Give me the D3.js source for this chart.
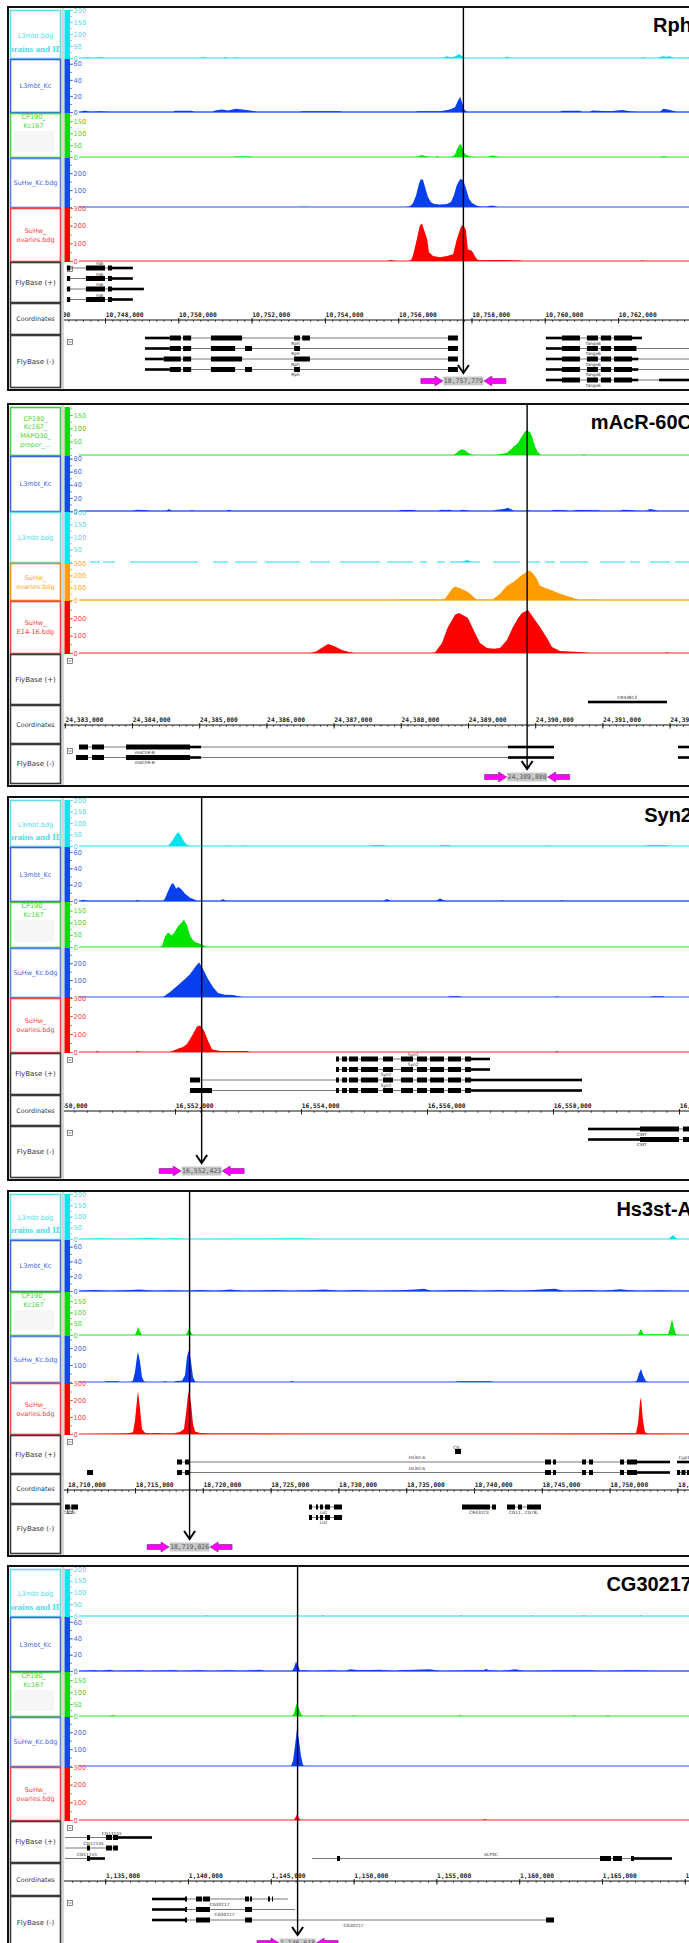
<!DOCTYPE html>
<html>
<head>
<meta charset="utf-8">
<script src="https://cdn.jsdelivr.net/npm/d3@7/dist/d3.min.js"></script>
<style>
  body { margin: 0; background: #fff; }
  svg { display: block; }
</style>
</head>
<body>
<svg id="chart"></svg>
<script>
// ---------- data ----------
const panelTitles = ["Rph", "mAcR-60C", "Syn2", "Hs3st-A", "CG30217"];
const cursorPositions = [10757779, 24389880, 16552423, 18719026, 1146618];
// genomic window (bp) shown in each snapshot
const viewWindows = [
  [10746881, 10763935],
  [24382988, 24392289],
  [16550238, 16560159],
  [18709764, 18755855],
  [1132512, 1170254]
];
const coordSteps = [2000, 1000, 2000, 5000, 5000];

const trackLabelsA = [["L3mbt.bdg", "brains and ID"], ["L3mbt_Kc"], ["CP190_", "Kc167"], ["SuHw_Kc.bdg"], ["SuHw_", "ovaries.bdg"]];
const trackLabelsB = [["CP190_", "Kc167_", "MAPQ30_", "proper_..."], ["L3mbt_Kc"], ["L3mbt.bdg"], ["SuHw_", "ovaries.bdg"], ["SuHw_", "E14-16.bdg"]];
const trackColorsA = ["cyan", "blue", "green", "blue2", "red"];
const trackColorsB = ["green", "blue", "cyan", "orange", "red"];
const trackTicksA = [[0, 50, 100, 150, 200], [0, 20, 40, 60], [0, 50, 100, 150], [100, 200], [0, 100, 200, 300]];
const trackTicksB = [[50, 100, 150], [0, 20, 40, 60, 80], [50, 100, 150, 200], [0, 100, 200, 300], [0, 100, 200]];
const trackMax = [
  [200, 66, 185, 290, 300],
  [180, 84, 200, 300, 300],
  [200, 66, 185, 290, 300],
  [200, 69, 190, 270, 300],
  [200, 66, 185, 290, 300]
];
const rowLabels = ["FlyBase (+)", "Coordinates", "FlyBase (-)"];

// signal tracks: [position kb, value]
const rphCyan = [[10747.32,0],[10747.54,3],[10747.65,0],[10747.89,3],[10748.0,0],[10750.59,0],[10750.67,4],[10750.76,0],[10751.22,0],[10751.27,4],[10751.36,0],[10751.49,0],[10751.55,3],[10751.63,0],[10757.22,0],[10757.33,7],[10757.44,3],[10757.55,6],[10757.66,17],[10757.74,8],[10757.82,0],[10758.91,0],[10758.97,6],[10759.05,0],[10762.60,0],[10762.68,3],[10762.76,0],[10763.09,0],[10763.20,7],[10763.31,5],[10763.42,7],[10763.53,0],[10763.93,2]];
const rphL3Kc = [[10747.32,0],[10747.45,2],[10747.59,0],[10747.86,1],[10748.14,0],[10749.86,0],[10749.91,1.5],[10750.37,1.5],[10750.43,0],[10750.92,0],[10751.00,2],[10751.19,3],[10751.36,2],[10751.57,4],[10751.74,3],[10751.96,2],[10752.17,0],[10753.32,0],[10753.38,1],[10754.41,1],[10754.47,0],[10756.46,0],[10756.54,1],[10757.14,1],[10757.41,3],[10757.55,6],[10757.63,14],[10757.69,19],[10757.74,12],[10757.80,3],[10757.88,0],[10760.41,0],[10760.47,1.5],[10760.96,1.5],[10761.02,0],[10761.23,0],[10761.29,2],[10761.78,1],[10762.11,2.5],[10762.32,1],[10762.52,0],[10763.14,0],[10763.23,4],[10763.36,3],[10763.55,1],[10763.61,0]];
const rphCp190 = [[10747.32,0],[10751.49,0],[10751.57,2],[10751.96,2],[10752.04,0],[10756.46,0],[10756.57,4],[10756.65,8],[10756.76,3],[10756.87,0],[10757.00,0],[10757.06,3],[10757.14,0],[10757.36,0],[10757.47,2],[10757.55,10],[10757.60,30],[10757.66,48],[10757.71,55],[10757.77,30],[10757.82,12],[10757.96,3],[10758.10,0],[10758.45,0],[10758.50,4],[10758.59,6],[10758.67,3],[10758.75,0],[10763.14,0],[10763.25,3],[10763.36,0]];
const rphSuHwKc = [[10747.32,0],[10753.32,0],[10753.40,2],[10753.59,0],[10756.19,0],[10756.32,4],[10756.40,20],[10756.49,70],[10756.57,140],[10756.62,165],[10756.68,160],[10756.73,120],[10756.81,60],[10756.89,30],[10756.98,18],[10757.14,15],[10757.33,18],[10757.44,30],[10757.52,70],[10757.60,130],[10757.69,165],[10757.77,160],[10757.85,110],[10757.93,50],[10758.01,25],[10758.12,10],[10758.23,3],[10758.40,2],[10758.50,8],[10758.61,8],[10758.72,0]];
const rphSuHwOv = [[10747.32,0],[10755.72,0],[10755.80,5],[10755.91,0],[10756.27,0],[10756.35,6],[10756.40,29],[10756.51,125],[10756.59,200],[10756.65,212],[10756.70,180],[10756.79,125],[10756.84,50],[10756.95,29],[10757.14,21],[10757.33,29],[10757.50,38],[10757.60,125],[10757.69,180],[10757.74,202],[10757.80,195],[10757.85,173],[10757.90,67],[10758.01,58],[10758.10,25],[10758.15,10],[10758.20,4],[10758.78,5],[10759.32,3],[10759.41,0],[10762.60,0],[10762.65,3],[10762.71,0]];

const macrCp190 = [[24383.226,0],[24388.777,0],[24388.821,6],[24388.866,16],[24388.911,22],[24388.955,18],[24389.000,8],[24389.045,3],[24389.089,0],[24389.402,0],[24389.476,3],[24389.580,8],[24389.670,29],[24389.744,45],[24389.804,70],[24389.848,88],[24389.878,92],[24389.923,85],[24389.952,70],[24389.997,33],[24390.042,10],[24390.086,0],[24390.711,0],[24390.726,5],[24390.741,0]];
const macrL3Kc = [[24383.226,0],[24384.015,0],[24384.074,2],[24384.223,1],[24384.268,0],[24384.506,0],[24384.551,3],[24384.595,0],[24384.863,0],[24384.893,1.5],[24384.923,0],[24385.399,0],[24385.443,2],[24385.488,0],[24387.958,0],[24388.018,1.5],[24388.196,1.5],[24388.226,0],[24388.554,0],[24388.598,2],[24388.673,1.5],[24388.732,2],[24388.777,0],[24388.866,0],[24388.911,2],[24388.985,1],[24389.015,0],[24389.372,0],[24389.432,2],[24389.536,3],[24389.595,5],[24389.655,2],[24389.699,0],[24389.863,0],[24389.893,1.5],[24389.923,0],[24390.235,0],[24390.280,1.5],[24390.458,1],[24390.488,0],[24390.563,0],[24390.607,1.5],[24390.935,1],[24390.979,0],[24391.262,0],[24391.307,2],[24391.470,1],[24391.500,0],[24391.649,0],[24391.708,3],[24391.768,2],[24391.827,0]];
// this track has holes in coverage (null = no data)
const macrCyan = [
  [24383.375,0],[24383.524,0],null,[24383.568,0],[24383.747,0],null,[24383.970,0],[24384.982,0],null,
  [24385.205,0],[24385.429,0],null,[24385.533,0],[24385.860,0],null,[24385.979,0],[24386.500,0],null,
  [24386.649,0],[24386.946,0],null,[24387.095,0],[24387.690,0],null,[24387.795,0],[24388.182,0],null,
  [24388.286,0],[24388.390,0],null,[24388.539,0],[24388.658,0],null,
  [24388.732,0],[24388.911,0],[24388.955,5],[24388.985,8],[24389.030,3],[24389.060,0],[24389.179,0],null,
  [24389.372,0],[24389.774,0],null,[24389.878,0],[24390.071,0],null,[24390.146,0],[24390.295,0],null,
  [24390.369,0],[24390.711,0],[24390.726,3],[24390.741,0],[24390.786,0],null,
  [24390.964,0],[24391.336,0],null,[24391.411,0],[24391.560,0],null,[24391.708,0],[24392.006,0],null,
  [24392.080,0],[24392.289,0]
];
const macrSuHwOv = [[24383.226,0],[24387.958,0],[24387.988,4],[24388.524,4],[24388.583,0],[24388.658,10],[24388.762,90],[24388.807,110],[24388.881,95],[24389.000,65],[24389.074,30],[24389.134,0],[24389.179,4],[24389.327,4],[24389.357,0],[24389.476,50],[24389.580,115],[24389.685,150],[24389.774,190],[24389.863,225],[24389.923,240],[24389.967,215],[24390.027,170],[24390.071,115],[24390.161,95],[24390.265,75],[24390.369,50],[24390.488,30],[24390.592,12],[24390.667,0],[24390.711,4],[24390.920,4],[24390.950,0]];
const macrSuHwE14 = [[24383.226,0],[24386.649,0],[24386.738,8],[24386.827,30],[24386.917,52],[24387.006,40],[24387.125,18],[24387.244,5],[24387.318,0],[24388.435,0],[24388.509,3],[24388.613,58],[24388.702,150],[24388.807,220],[24388.866,231],[24388.941,215],[24389.000,202],[24389.104,116],[24389.179,58],[24389.283,29],[24389.387,25],[24389.476,29],[24389.580,75],[24389.670,150],[24389.744,200],[24389.804,231],[24389.893,248],[24389.967,208],[24390.071,150],[24390.176,87],[24390.250,35],[24390.369,12],[24390.667,6],[24390.815,0],[24391.931,0],[24391.961,5],[24391.991,0]];

const syn2Cyan = [[16550.492,0],[16551.889,0],[16551.937,15],[16551.984,35],[16552.032,55],[16552.048,60],[16552.095,45],[16552.143,20],[16552.190,5],[16552.238,0],[16552.794,0],[16552.825,3],[16552.857,0],[16553.048,0],[16553.079,3],[16553.111,0],[16555.079,0],[16555.127,3],[16555.317,3],[16555.349,0],[16556.175,0],[16556.222,3],[16556.349,3],[16556.381,0],[16557.873,0],[16557.905,3],[16557.937,0],[16559.460,0],[16559.508,3],[16559.810,3],[16559.841,0]];
const syn2L3Kc = [[16550.492,0],[16550.540,1.5],[16550.619,0],[16551.365,0],[16551.397,1.5],[16551.429,0],[16551.810,0],[16551.841,3],[16551.889,12],[16551.937,20],[16551.968,22],[16552.000,18],[16552.016,15],[16552.048,17],[16552.079,16],[16552.127,12],[16552.159,9],[16552.206,6],[16552.238,4],[16552.302,2],[16552.349,0],[16552.714,0],[16552.762,2.5],[16552.810,0],[16555.302,0],[16555.365,2.5],[16555.429,0],[16556.143,0],[16556.206,3],[16556.270,1],[16556.317,0],[16557.159,0],[16557.190,1],[16557.222,0],[16558.111,0],[16558.143,1],[16558.175,0]];
const syn2Cp190 = [[16550.492,0],[16551.762,0],[16551.794,5],[16551.841,43],[16551.889,60],[16551.952,47],[16552.000,64],[16552.048,85],[16552.079,94],[16552.143,112],[16552.190,90],[16552.238,47],[16552.286,28],[16552.317,21],[16552.397,13],[16552.460,6],[16552.508,0]];
const syn2SuHwKc = [[16550.492,0],[16551.810,0],[16551.921,29],[16552.032,65],[16552.159,106],[16552.238,135],[16552.317,176],[16552.381,206],[16552.444,165],[16552.524,106],[16552.603,59],[16552.683,24],[16552.794,14],[16552.921,12],[16553.032,3],[16553.079,0],[16556.333,0],[16556.365,4],[16556.524,4],[16556.556,0],[16558.032,0],[16558.063,4],[16558.095,0],[16559.540,0],[16559.571,4],[16559.746,4],[16559.778,0]];
const syn2SuHwOv = [[16550.492,0],[16550.730,0],[16550.762,5],[16550.794,0],[16551.365,0],[16551.397,5],[16551.444,0],[16551.921,0],[16552.032,17],[16552.127,28],[16552.190,45],[16552.270,90],[16552.349,141],[16552.397,147],[16552.460,119],[16552.524,62],[16552.587,15],[16552.714,6],[16553.143,5],[16553.190,0],[16558.032,0],[16558.063,5],[16558.095,0]];

const hs3Cyan = [[18710.944,0],[18712.419,2],[18713.894,0],[18716.106,3],[18717.212,0],[18717.950,3],[18718.687,0],[18727.168,2],[18728.643,0],[18754.380,0],[18754.528,10],[18754.675,18],[18754.823,8],[18755.044,0]];
const hs3L3Kc = [[18710.944,0],[18712.050,1.5],[18713.156,0],[18714.263,1],[18715.369,2],[18716.475,0],[18717.581,1],[18718.687,0],[18719.793,1.5],[18720.900,0],[18722.006,2],[18723.112,0],[18725.324,1.5],[18726.431,0],[18727.906,1],[18729.012,2],[18730.118,0],[18731.224,1.5],[18732.330,0],[18734.543,1],[18735.649,2],[18736.313,3],[18736.903,0],[18738.230,1],[18739.336,1.5],[18740.442,0],[18741.917,1.5],[18743.023,0],[18744.130,1],[18745.236,2.5],[18745.973,3],[18746.711,0],[18747.817,1],[18748.554,1.5],[18749.292,0],[18750.767,2.5],[18751.504,1],[18752.242,0],[18753.717,1],[18754.823,0]];
const hs3Cp190 = [[18710.944,0],[18715.000,0],[18715.147,20],[18715.221,35],[18715.369,15],[18715.516,0],[18718.761,0],[18718.909,20],[18718.982,27],[18719.130,10],[18719.277,0],[18752.094,0],[18752.242,20],[18752.316,27],[18752.463,8],[18752.611,0],[18752.684,3],[18754.307,3],[18754.454,30],[18754.602,71],[18754.749,30],[18754.897,3],[18755.192,0]];
const hs3SuHwKc = [[18710.944,0],[18712.714,0],[18712.861,5],[18713.746,5],[18713.894,0],[18714.705,0],[18714.853,10],[18715.000,60],[18715.147,150],[18715.221,176],[18715.369,120],[18715.516,30],[18715.664,5],[18715.811,0],[18717.065,0],[18717.212,6],[18717.360,0],[18717.876,0],[18718.024,6],[18718.466,8],[18718.687,40],[18718.835,150],[18718.982,188],[18719.130,120],[18719.277,30],[18719.425,5],[18719.572,0],[18726.431,0],[18726.578,6],[18726.726,0],[18738.599,0],[18738.820,5],[18741.180,5],[18741.549,0],[18751.873,0],[18752.020,10],[18752.168,50],[18752.316,76],[18752.463,40],[18752.684,5],[18752.832,0]];
const hs3SuHwOv = [[18710.944,0],[18713.894,3],[18714.484,5],[18714.853,10],[18715.000,80],[18715.147,200],[18715.221,251],[18715.369,150],[18715.516,30],[18715.737,8],[18716.106,5],[18716.696,6],[18717.212,3],[18717.876,5],[18718.319,12],[18718.614,30],[18718.761,120],[18718.909,230],[18718.982,257],[18719.130,180],[18719.277,60],[18719.425,15],[18719.793,6],[18720.531,3],[18727.168,2],[18734.543,2],[18741.917,2],[18749.292,3],[18751.947,5],[18752.094,60],[18752.242,190],[18752.316,216],[18752.463,80],[18752.611,10],[18752.832,3],[18755.855,2]];

const cgCyan = [[1133.478,0],[1140.966,0],[1141.087,3],[1141.208,0],[1146.461,0],[1146.582,5],[1146.703,0],[1148.031,0],[1148.152,3],[1148.273,0],[1156.365,0],[1156.485,3],[1156.606,0],[1160.652,0],[1160.773,3],[1160.894,0],[1163.792,0],[1163.913,3],[1164.034,0],[1167.234,0],[1167.355,3],[1167.476,0]];
const cgL3Kc = [[1133.478,0],[1134.384,1],[1134.686,0],[1135.290,1.5],[1135.592,0],[1137.101,1],[1137.403,0],[1139.215,1],[1139.517,0],[1140.725,1],[1141.329,0],[1142.536,1],[1143.140,0],[1144.348,1.5],[1144.650,0],[1146.280,0],[1146.401,4],[1146.522,11.6],[1146.642,6],[1146.763,1],[1147.065,1],[1147.367,0],[1148.575,1],[1149.481,0],[1149.783,2],[1150.386,1],[1151.594,1.5],[1152.500,0],[1152.802,1],[1154.613,2],[1155.217,0],[1157.029,1],[1157.814,1],[1157.995,2.5],[1158.176,1],[1158.840,0],[1159.746,2],[1160.350,0],[1162.464,1],[1164.275,1],[1164.879,0],[1166.691,1],[1168.502,0],[1170.254,0]];
const cgCp190 = [[1133.478,0],[1135.290,0],[1135.471,3],[1135.652,0],[1146.280,0],[1146.401,10],[1146.522,45],[1146.582,52],[1146.703,30],[1146.824,8],[1146.944,0],[1147.971,0],[1148.092,3],[1148.213,0],[1149.903,0],[1150.024,3],[1150.145,0],[1156.304,0],[1156.425,3],[1156.546,0],[1163.188,0],[1163.309,3],[1163.430,0],[1165.241,0],[1165.362,3],[1165.483,0]];
const cgSuHwKc = [[1133.478,0],[1146.220,0],[1146.340,30],[1146.461,120],[1146.582,220],[1146.703,150],[1146.824,60],[1146.944,5],[1147.065,0]];
const cgSuHwOv = [[1133.478,0],[1146.401,0],[1146.522,20],[1146.582,34],[1146.703,10],[1146.824,0],[1157.814,0],[1157.935,5],[1158.056,0]];

// gene models: [row, start kb, end kb, blocks [start, end, "c" coding | "u" utr]]
const rphPlusGenes = [
  [0, 10746.96, 10748.76, [[10746.96,10747.05,"c"],[10747.48,10748.00,"c"],[10748.08,10748.19,"c"],[10748.19,10748.76,"u"]]],
  [1, 10746.96, 10748.76, [[10746.96,10747.05,"c"],[10747.48,10748.00,"c"],[10748.08,10748.19,"c"],[10748.19,10748.76,"u"]]],
  [2, 10746.96, 10749.06, [[10746.96,10747.05,"c"],[10747.48,10748.00,"c"],[10748.08,10748.19,"c"],[10748.19,10749.06,"u"]]],
  [3, 10746.96, 10748.76, [[10746.96,10747.05,"c"],[10747.48,10748.00,"c"],[10748.08,10748.19,"c"],[10748.19,10748.76,"u"]]]
];
const tangoExons = [[10760.03,10760.47,"u"],[10760.47,10760.96,"c"],[10761.15,10761.45,"c"],[10761.53,10761.81,"c"],[10761.89,10762.38,"c"]];
const rphMinusGenes = [
  [0, 10749.09, 10757.63, [[10749.09,10749.77,"u"],[10749.77,10750.07,"c"],[10750.13,10750.35,"c"],[10750.89,10751.74,"c"],[10753.16,10753.32,"c"],[10753.38,10753.59,"c"],[10757.36,10757.63,"c"]]],
  [1, 10749.09, 10757.63, [[10749.09,10749.77,"u"],[10749.77,10750.07,"c"],[10750.13,10750.35,"c"],[10750.89,10751.55,"c"],[10751.82,10752.01,"c"],[10753.16,10753.32,"c"],[10757.36,10757.63,"c"]]],
  [2, 10749.09, 10757.63, [[10749.09,10749.60,"u"],[10749.60,10750.07,"c"],[10750.13,10750.35,"c"],[10750.89,10751.74,"c"],[10753.16,10753.59,"c"],[10757.36,10757.63,"c"]]],
  [3, 10749.09, 10757.63, [[10749.09,10749.77,"u"],[10749.77,10750.07,"c"],[10750.13,10750.35,"c"],[10750.89,10751.55,"c"],[10751.82,10752.01,"c"],[10753.16,10753.32,"c"],[10757.36,10757.63,"c"]]],
  [0, 10760.03, 10762.65, [...tangoExons, [10762.38,10762.65,"u"]]],
  [1, 10760.03, 10764.30, [...tangoExons, [10762.38,10762.50,"c"]]],
  [2, 10760.03, 10764.30, [...tangoExons, [10762.38,10762.55,"u"]]],
  [3, 10760.03, 10764.30, [...tangoExons, [10762.38,10762.55,"u"]]],
  [4, 10760.03, 10764.30, [...tangoExons, [10762.38,10762.55,"u"],[10763.12,10764.30,"u"]]]
];
const rphGeneLabels = [["+",0,10747.86,"Fab",-1],["+",1,10747.86,"Fab",-1],["+",2,10747.86,"Fab",-1],["+",3,10747.86,"Fab",-1],
  ["-",0,10753.2,"Rph",1],["-",1,10753.2,"Rph",1],["-",2,10753.2,"Rph",1],["-",3,10753.2,"Rph",1],
  ["-",0,10761.32,"Tango6",1],["-",1,10761.32,"Tango6",1],["-",2,10761.32,"Tango6",1],["-",3,10761.32,"Tango6",1],["-",4,10761.32,"Tango6",1]];

const macrPlusGenes = [[4, 24390.786, 24391.961, [[24390.786,24391.961,"u"]]]];
const macrMinusGenes = [
  [0, 24383.211, 24390.280, [[24383.211,24383.345,"c"],[24383.405,24383.583,"c"],[24383.911,24384.863,"c"],[24384.863,24385.027,"u"],[24389.595,24390.280,"u"]]],
  [1, 24383.167, 24390.280, [[24383.167,24383.345,"c"],[24383.405,24383.583,"c"],[24383.911,24384.863,"c"],[24384.863,24385.027,"u"],[24389.595,24390.280,"u"]]],
  [0, 24392.125, 24392.500, [[24392.125,24392.500,"u"]]],
  [1, 24392.125, 24392.500, [[24392.125,24392.500,"u"]]]
];
const macrGeneLabels = [["+",4,24391.37,"CR44813",-1],["-",0,24384.19,"mAChR-B",1],["-",1,24384.19,"mAChR-B",1],
  ["-",0,24392.35,"slo",1],["-",1,24392.35,"slo",1],["-",2,24392.35,"slo",1]];

const syn2Exons = [[16554.556,16554.603,"c"],[16554.651,16554.730,"c"],[16554.762,16554.905,"c"],[16554.952,16555.222,"c"],[16555.302,16555.460,"c"],[16555.587,16555.778,"c"],[16555.841,16556.000,"c"],[16556.048,16556.270,"c"],[16556.333,16556.540,"c"],[16556.603,16556.698,"c"]];
const syn2PlusGenes = [
  [0, 16554.556, 16557.000, [...syn2Exons, [16556.698,16557.000,"u"]]],
  [1, 16554.556, 16557.000, [...syn2Exons, [16556.698,16557.000,"u"]]],
  [2, 16552.238, 16558.460, [[16552.238,16552.397,"c"], ...syn2Exons, [16556.698,16558.460,"u"]]],
  [3, 16552.238, 16558.460, [[16552.238,16552.587,"c"], ...syn2Exons, [16556.698,16558.460,"u"]]]
];
const syn2MinusGenes = [
  [0, 16558.556, 16560.400, [[16558.556,16559.381,"u"],[16559.381,16560.000,"c"],[16560.063,16560.400,"c"]]],
  [1, 16558.556, 16560.400, [[16558.556,16559.381,"u"],[16559.381,16560.000,"c"],[16560.063,16560.400,"c"]]]
];
const syn2GeneLabels = [["+",0,16555.78,"Syn2",-1],["+",0,16555.78,"Syn2",1],["+",1,16555.35,"Syn2",1],["+",2,16555.35,"Syn2",1],
  ["-",0,16559.41,"CWT",1],["-",1,16559.41,"CWT",1]];

const hs3Exons = [[18718.097,18718.466,"c"],[18718.687,18718.982,"c"],[18745.236,18745.678,"c"],[18745.826,18746.047,"c"],[18747.965,18748.260,"c"],[18748.481,18748.776,"c"],[18750.767,18751.062,"c"],[18751.283,18752.020,"c"],[18752.020,18754.454,"u"]];
const listExons = [[18727.832,18728.053,"c"],[18728.348,18728.496,"c"],[18728.643,18728.864,"c"],[18729.012,18729.381,"c"],[18729.676,18730.266,"c"]];
const hs3PlusGenes = [
  [1, 18738.599, 18739.041, [[18738.599,18739.041,"c"]]],
  [2, 18718.097, 18754.454, hs3Exons],
  [3, 18718.097, 18754.454, hs3Exons],
  [3, 18711.460, 18711.903, [[18711.460,18711.903,"c"]]],
  [2, 18754.970, 18756.500, [[18754.970,18756.500,"u"]]],
  [3, 18754.970, 18756.500, [[18754.970,18755.200,"c"],[18755.300,18755.600,"c"],[18755.700,18756.500,"c"]]]
];
const hs3MinusGenes = [
  [0, 18709.838, 18710.796, [[18709.838,18710.200,"c"],[18710.300,18710.796,"c"]]],
  [0, 18727.832, 18730.266, listExons],
  [1, 18727.832, 18730.266, listExons],
  [0, 18739.115, 18741.622, [[18739.115,18741.180,"c"],[18741.327,18741.622,"c"]]],
  [0, 18742.433, 18744.940, [[18742.433,18743.023,"c"],[18743.245,18743.540,"c"],[18743.908,18744.940,"c"]]]
];
const hs3GeneLabels = [["+",1,18738.8,"CG..",-1],["+",2,18735.8,"Hs3st-A",-1],["+",3,18735.8,"Hs3st-A",-1],["+",2,18755.6,"Cyp12",-1],
  ["-",0,18710.2,"CG15.",1],["-",0,18728.9,"List",1],["-",1,18728.9,"List",1],["-",0,18740.37,"CR43123",1],["-",0,18743.7,"CG11.. CG78..",1]];

const cgPlusGenes = [
  [1, 1132.573, 1137.826, [[1133.901,1134.082,"c"],[1135.048,1135.411,"c"],[1135.471,1135.773,"c"],[1135.773,1137.826,"u"]]],
  [2, 1132.573, 1135.773, [[1133.901,1134.082,"c"],[1135.048,1135.411,"c"],[1135.471,1135.773,"c"]]],
  [3, 1132.573, 1134.988, [[1133.901,1134.082,"c"],[1134.082,1134.988,"u"]]],
  [3, 1147.488, 1169.227, [[1148.998,1149.179,"c"],[1164.879,1165.543,"c"],[1165.664,1166.208,"c"],[1166.751,1166.932,"c"],[1166.932,1169.227,"u"]]]
];
const cgMinusGenes = [
  [0, 1137.826, 1146.039, [[1137.826,1139.819,"u"],[1139.819,1139.940,"c"],[1140.483,1140.845,"c"],[1140.906,1141.328,"c"],[1143.442,1143.684,"c"],[1143.744,1143.865,"c"],[1144.831,1144.952,"c"],[1145.072,1145.133,"c"]]],
  [1, 1137.826, 1146.461, [[1137.826,1139.819,"u"],[1139.819,1139.940,"c"],[1140.483,1141.328,"c"],[1143.442,1143.865,"c"]]],
  [2, 1137.826, 1162.101, [[1137.826,1139.819,"u"],[1139.819,1139.940,"c"],[1140.483,1141.328,"c"],[1143.442,1143.865,"c"],[1161.618,1162.101,"c"]]]
];
const cgGeneLabels = [["+",1,1135.4,"CG11155",-1],["+",2,1134.3,"CG11155",-1],["+",3,1133.9,"CG11155",-1],["+",3,1158.3,"KLP3C",-1],
  ["-",0,1141.9,"CG30217",1],["-",1,1142.2,"CG30217",1],["-",2,1150.0,"CG30217",1]];

// ---------- layout ----------
const W = 689, H = 1943;
const PLOT_L = 64, PLOT_R = 689, SIG_L = 79;
const panelTops = [8, 405, 798, 1192, 1567];
const rowHeights = [
  [49, 54, 45, 50, 54, 41, 32, 53],
  [49, 56, 51, 38, 53, 51, 39, 40],
  [47, 55, 46, 50, 55, 42, 31, 52],
  [46, 52, 44, 47, 52, 39, 30, 50],
  [48, 55, 45, 50, 54, 42, 33, 54]
];
const axisOffsets = [17, 20, 16, 16, 18];

const palette = {
  cyan:   { bar: "#00eaf0", fill: "#00e2ee", base: "#5eeef2", text: "#4fdbe6", border: "#62dfe8" },
  blue:   { bar: "#1248ff", fill: "#0a3ff0", base: "#2f60f0", text: "#4468e6", border: "#3a64dc" },
  blue2:  { bar: "#1248ff", fill: "#0a3ff0", base: "#6b8dff", text: "#4468e6", border: "#5a80e6" },
  green:  { bar: "#00e000", fill: "#00e400", base: "#6aee6a", text: "#3fd63f", border: "#44cc44" },
  red:    { bar: "#ff0000", fill: "#ff0000", base: "#ff6a6a", text: "#ff4040", border: "#ee4444" },
  orange: { bar: "#ffa000", fill: "#ff9c00", base: "#ffae30", text: "#ffaa22", border: "#ee8a22" }
};

const panelSignals = [
  [rphCyan, rphL3Kc, rphCp190, rphSuHwKc, rphSuHwOv],
  [macrCp190, macrL3Kc, macrCyan, macrSuHwOv, macrSuHwE14],
  [syn2Cyan, syn2L3Kc, syn2Cp190, syn2SuHwKc, syn2SuHwOv],
  [hs3Cyan, hs3L3Kc, hs3Cp190, hs3SuHwKc, hs3SuHwOv],
  [cgCyan, cgL3Kc, cgCp190, cgSuHwKc, cgSuHwOv]
];
const panelGenes = [
  [rphPlusGenes, rphMinusGenes],
  [macrPlusGenes, macrMinusGenes],
  [syn2PlusGenes, syn2MinusGenes],
  [hs3PlusGenes, hs3MinusGenes],
  [cgPlusGenes, cgMinusGenes]
];
const panelGeneLabels = [rphGeneLabels, macrGeneLabels, syn2GeneLabels, hs3GeneLabels, cgGeneLabels];

const svg = d3.select("#chart").attr("width", W).attr("height", H)
  .style("font-family", "'DejaVu Sans', sans-serif");
svg.append("rect").attr("width", W).attr("height", H).attr("fill", "#fff");
const defs = svg.append("defs");

panelTitles.forEach((t, p) => drawPanel(p));

function drawPanel(p) {
  const top = panelTops[p];
  const ys = [top + 2];
  rowHeights[p].forEach(h => ys.push(ys[ys.length - 1] + h));
  const bottom = ys[8];
  const x = d3.scaleLinear().domain(viewWindows[p]).range([PLOT_L, PLOT_R]);
  const isB = p === 1;
  const labels = isB ? trackLabelsB : trackLabelsA;
  const colors = isB ? trackColorsB : trackColorsA;
  const ticks = isB ? trackTicksB : trackTicksA;
  const g = svg.append("g");

  defs.append("clipPath").attr("id", `plot${p}`).append("rect")
    .attr("x", PLOT_L).attr("y", top).attr("width", PLOT_R - PLOT_L).attr("height", bottom - top);
  defs.append("clipPath").attr("id", `sig${p}`).append("rect")
    .attr("x", SIG_L).attr("y", top).attr("width", PLOT_R - SIG_L).attr("height", bottom - top);
  defs.append("clipPath").attr("id", `lab${p}`).append("rect")
    .attr("x", 11).attr("y", top).attr("width", 49).attr("height", bottom - top);

  // frame
  g.append("rect").attr("x", 8).attr("y", top - 1).attr("width", 700).attr("height", bottom - top + 3)
    .attr("fill", "#fff").attr("stroke", "#111").attr("stroke-width", 2);
  g.append("rect").attr("x", 61.5).attr("y", top).attr("width", 2.5).attr("height", bottom - top + 1)
    .attr("fill", "#d6d6d6");

  const boxes = g.append("g");
  const labG = g.append("g").attr("clip-path", `url(#lab${p})`);
  const sig = g.append("g").attr("clip-path", `url(#sig${p})`);
  const plot = g.append("g").attr("clip-path", `url(#plot${p})`);

  // signal tracks
  panelSignals[p].forEach((data, i) => {
    const c = palette[colors[i]];
    const y0 = ys[i], y1 = ys[i + 1], base = y1 - 1;
    const y = d3.scaleLinear().domain([0, trackMax[p][i]]).range([base, y0]);

    nameBox(boxes, labG, y0, y1, c.border, c.text, labels[i]);
    g.append("rect").attr("x", 64.5).attr("y", y0).attr("width", 5.5).attr("height", y1 - y0).attr("fill", c.bar);

    if (data.some(d => d === null)) {
      sig.append("path").datum(data)
        .attr("d", d3.line().defined(d => d !== null).x(d => x(d[0] * 1000)).y(base))
        .attr("fill", "none").attr("stroke", c.base).attr("stroke-width", 1.5);
    } else {
      sig.append("line").attr("x1", SIG_L).attr("x2", PLOT_R).attr("y1", base).attr("y2", base)
        .attr("stroke", c.base).attr("stroke-width", 1.5);
    }
    sig.append("path").datum(data)
      .attr("d", d3.area().defined(d => d !== null).x(d => x(d[0] * 1000)).y0(base).y1(d => y(d[1])))
      .attr("fill", c.fill);

    // value axis
    const tv = ticks[i];
    const step = tv.length > 1 ? tv[1] - tv[0] : tv[0];
    const minorG = plot.append("g").attr("transform", "translate(70,0)")
      .call(d3.axisRight(y).tickValues(d3.range(0, trackMax[p][i] + 0.1, step / 2)).tickSize(2).tickFormat(""));
    const majorG = plot.append("g").attr("transform", "translate(70,0)")
      .call(d3.axisRight(y).tickValues(tv).tickSize(3).tickPadding(0.5).tickFormat(d3.format("d")));
    [minorG, majorG].forEach(a => {
      a.select(".domain").remove();
      a.selectAll("line").attr("stroke", c.text).attr("stroke-width", 0.8);
      a.selectAll("text").attr("fill", c.text).attr("font-size", 6.6)
        .attr("font-family", "'DejaVu Sans', sans-serif");
    });
  });

  // FlyBase / Coordinates name boxes
  [5, 6, 7].forEach((r, k) => {
    boxes.append("rect").attr("x", 10.5).attr("y", ys[r] + 0.5).attr("width", 50).attr("height", ys[r + 1] - ys[r] - 1)
      .attr("fill", "#fff").attr("stroke", "#3a3a3a").attr("stroke-width", 1.6);
    labG.append("text").attr("x", 35.5).attr("y", (ys[r] + ys[r + 1]) / 2).attr("dy", "0.35em")
      .attr("text-anchor", "middle").attr("font-size", k === 1 ? 6.4 : 7).attr("fill", "#333")
      .text(rowLabels[k]);
  });

  // collapse icons
  [5, 7].forEach(r => {
    const iy = ys[r] + 4.5;
    plot.append("rect").attr("x", 67.5).attr("y", iy).attr("width", 5).attr("height", 5)
      .attr("fill", "#fff").attr("stroke", "#555").attr("stroke-width", 0.7);
    plot.append("line").attr("x1", 68.5).attr("x2", 71.5).attr("y1", iy + 2.5).attr("y2", iy + 2.5)
      .attr("stroke", "#555").attr("stroke-width", 0.7);
  });

  // genes
  const rowY = (sign, row) => sign === "+" ? ys[5] + 6 + row * 10.5 : ys[7] + 3 + row * 10.5;
  const [plusGenes, minusGenes] = panelGenes[p];
  [["+", plusGenes], ["-", minusGenes]].forEach(([sign, list]) => {
    list.forEach(([row, s, e, blocks]) => {
      const cy = rowY(sign, row);
      plot.append("line").attr("x1", x(s * 1000)).attr("x2", x(e * 1000)).attr("y1", cy).attr("y2", cy)
        .attr("stroke", "#555").attr("stroke-width", 0.8);
      blocks.forEach(([bs, be, kind]) => {
        const h = kind === "c" ? 5 : 2.6;
        plot.append("rect").attr("x", x(bs * 1000)).attr("y", cy - h / 2)
          .attr("width", Math.max(1, x(be * 1000) - x(bs * 1000))).attr("height", h).attr("fill", "#000");
      });
    });
  });
  panelGeneLabels[p].forEach(([sign, row, pos, text, side]) => {
    plot.append("text").attr("x", x(pos * 1000)).attr("y", rowY(sign, row) + (side > 0 ? 6.5 : -3))
      .attr("text-anchor", "middle").attr("font-size", 4.3).attr("fill", "#333").text(text);
  });

  // coordinates ruler
  const axisY = ys[6] + axisOffsets[p];
  const stepBp = coordSteps[p];
  const [w0, w1] = viewWindows[p];
  const majors = d3.range(Math.floor(w0 / stepBp) * stepBp, w1 + 1, stepBp);
  const minors = d3.range(Math.ceil(w0 / (stepBp / 10)) * (stepBp / 10), w1, stepBp / 10);
  plot.append("g").attr("transform", `translate(0,${axisY})`)
    .call(d3.axisBottom(x).tickValues(minors).tickSize(1.8).tickFormat(""))
    .call(a => a.select(".domain").remove())
    .call(a => a.selectAll("line").attr("stroke", "#222").attr("stroke-width", 0.8));
  const majorAxis = plot.append("g").attr("transform", `translate(0,${axisY})`)
    .call(d3.axisTop(x).tickValues(majors).tickSize(0).tickFormat(d3.format(",")));
  majorAxis.select(".domain").remove();
  majorAxis.selectAll("text").attr("text-anchor", "start").attr("dx", "0.2")
    .attr("y", -3).attr("font-family", "'DejaVu Sans Mono', monospace").attr("font-weight", "bold")
    .attr("font-size", 6.3).attr("fill", "#222");
  majorAxis.selectAll(".tick").append("line").attr("y1", -2).attr("y2", 3.5)
    .attr("stroke", "#222").attr("stroke-width", 1);
  plot.append("line").attr("x1", PLOT_L).attr("x2", PLOT_R).attr("y1", axisY).attr("y2", axisY)
    .attr("stroke", "#111").attr("stroke-width", 1);

  // title
  g.append("text").attr("x", 692).attr("y", top + 24).attr("text-anchor", "end")
    .attr("font-family", "'Liberation Sans', Arial, sans-serif").attr("font-weight", "bold")
    .attr("font-size", 20).attr("fill", "#000").text(panelTitles[p]);

  // cursor
  const cx = x(cursorPositions[p]);
  const labY = bottom - 7;
  const tipY = labY - 8;
  g.append("line").attr("x1", cx).attr("x2", cx).attr("y1", top).attr("y2", tipY)
    .attr("stroke", "#000").attr("stroke-width", 1.4);
  g.append("path").attr("d", `M${cx - 5.5},${tipY - 8}L${cx},${tipY}L${cx + 5.5},${tipY - 8}`)
    .attr("fill", "none").attr("stroke", "#000").attr("stroke-width", 2);
  const txt = d3.format(",")(cursorPositions[p]);
  const bw = txt.length * 3.9 + 1;
  g.append("rect").attr("x", cx - bw / 2).attr("y", labY - 4.5).attr("width", bw).attr("height", 9).attr("fill", "#c9c9c9");
  g.append("text").attr("x", cx).attr("y", labY).attr("dy", "0.35em").attr("text-anchor", "middle")
    .attr("font-family", "'DejaVu Sans Mono', monospace").attr("font-size", 6.5).attr("fill", "#555").text(txt);
  const lt = cx - bw / 2 - 0.5, rt = cx + bw / 2 + 0.5;
  g.append("path")
    .attr("d", `M${lt - 22},${labY - 2.5}H${lt - 8}V${labY - 5}L${lt},${labY}L${lt - 8},${labY + 5}V${labY + 2.5}H${lt - 22}Z`)
    .attr("fill", "#ff00ff").attr("stroke", "#7a1a7a").attr("stroke-width", 0.6);
  g.append("path")
    .attr("d", `M${rt + 22},${labY - 2.5}H${rt + 8}V${labY - 5}L${rt},${labY}L${rt + 8},${labY + 5}V${labY + 2.5}H${rt + 22}Z`)
    .attr("fill", "#ff00ff").attr("stroke", "#7a1a7a").attr("stroke-width", 0.6);
}

function nameBox(boxes, labG, y0, y1, stroke, color, lines) {
  boxes.append("rect").attr("x", 10.5).attr("y", y0 + 0.5).attr("width", 50).attr("height", y1 - y0 - 1)
    .attr("fill", "#fff").attr("stroke", stroke).attr("stroke-width", 1.6);
  const h = y1 - y0;
  if (lines[1] === "brains and ID") {
    labG.append("text").attr("x", 35.5).attr("y", y0 + h * 0.52).attr("dy", "0.35em").attr("text-anchor", "middle")
      .attr("font-size", 6.5).attr("fill", color).text(lines[0]);
    labG.append("text").attr("x", 35.5).attr("y", y0 + h * 0.79).attr("dy", "0.35em").attr("text-anchor", "middle")
      .attr("font-family", "'Liberation Serif', 'DejaVu Serif', serif").attr("font-weight", "bold")
      .attr("font-size", 9).attr("fill", color).text(lines[1]);
  } else if (lines[0] === "CP190_" && lines.length === 2) {
    labG.append("rect").attr("x", 14).attr("y", y0 + 18).attr("width", 40).attr("height", h - 24).attr("fill", "#f6f6f6");
    lines.forEach((t, k) => {
      labG.append("text").attr("x", 33.5).attr("y", y0 + 4 + k * 8.5).attr("dy", "0.35em").attr("text-anchor", "middle")
        .attr("font-size", 6.5).attr("fill", color).text(t);
    });
  } else {
    const lh = 8.6;
    const mid = (y0 + y1) / 2;
    lines.forEach((t, k) => {
      labG.append("text").attr("x", 35.5).attr("y", mid + (k - (lines.length - 1) / 2) * lh).attr("dy", "0.35em")
        .attr("text-anchor", "middle").attr("font-size", 6.5).attr("fill", color).text(t);
    });
  }
}
</script>
</body>
</html>
